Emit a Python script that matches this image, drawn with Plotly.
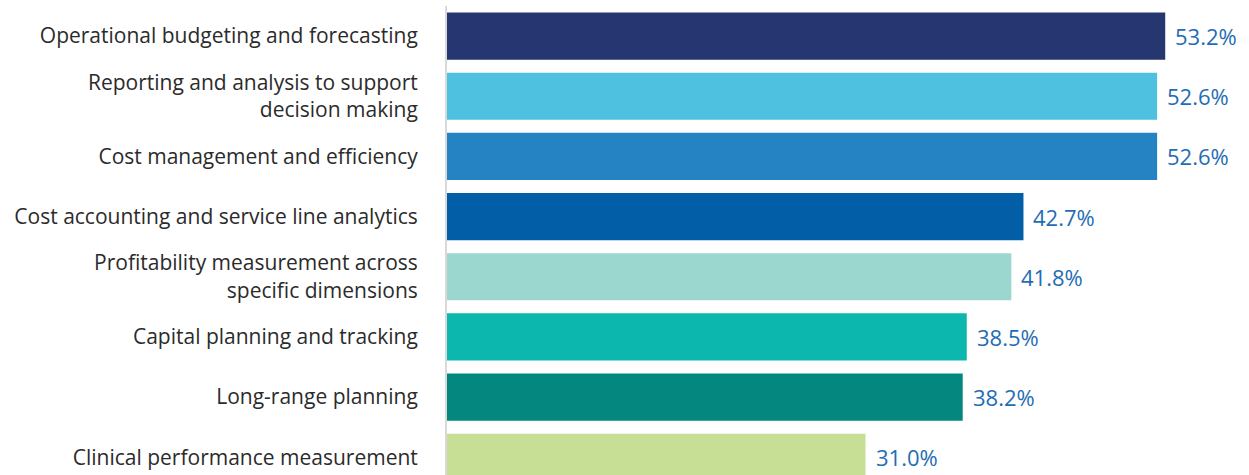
import plotly.graph_objects as go

categories = [
    "Operational budgeting and forecasting",
    "Reporting and analysis to support<br>decision making",
    "Cost management and efficiency",
    "Cost accounting and service line analytics",
    "Profitability measurement across<br>specific dimensions",
    "Capital planning and tracking",
    "Long-range planning",
    "Clinical performance measurement",
]
values = [53.2, 52.6, 52.6, 42.7, 41.8, 38.5, 38.2, 31.0]
bar_colors = [
    "#253670", "#4fc1e0", "#2683c3", "#035ea8",
    "#9bd7cf", "#0cb8ae", "#04877f", "#c6df94",
]

FONT = "Open Sans"
positions = list(range(len(categories)))

fig = go.Figure(
    go.Bar(
        x=values,
        y=positions,
        orientation="h",
        marker=dict(color=bar_colors, line=dict(width=0)),
        hoverinfo="skip",
    )
)

for pos, val in zip(positions, values):
    fig.add_annotation(
        x=val, y=pos, xref="x", yref="y",
        text=f"{val:.1f}%",
        showarrow=False, xanchor="left", yanchor="middle",
        xshift=8,
        font=dict(family=FONT, size=22, color="#1f6db4"),
    )

fig.update_layout(
    width=1249, height=475,
    margin=dict(l=447, r=21, t=6, b=0),
    paper_bgcolor="white", plot_bgcolor="white",
    bargap=0.216,
    showlegend=False,
    font=dict(family=FONT, size=21, color="#2b2b2b"),
)
fig.update_xaxes(range=[0, 57.85], visible=False, showgrid=False, zeroline=False)
fig.update_yaxes(
    range=[7.295, -0.5],
    tickmode="array", tickvals=positions, ticktext=categories,
    ticks="", showgrid=False, zeroline=False,
    showline=True, linecolor="#d9d9d9", linewidth=2,
    ticklabelstandoff=23,
    tickfont=dict(family=FONT, size=21, color="#2b2b2b"),
)

fig.write_html("out.html")
